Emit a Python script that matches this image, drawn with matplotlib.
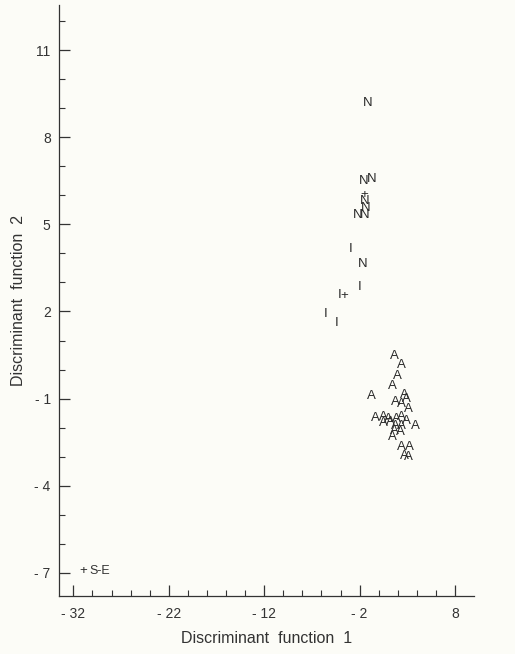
import numpy as np
import matplotlib.pyplot as plt

# discriminant scores per group (function 1, function 2)
n_x = [-1.11, -1.53, -0.69, -1.42, -1.32, -1.42, -2.16, -1.67]
n_y = [9.17, 6.48, 6.55, 5.79, 5.55, 5.34, 5.31, 3.64]

i_x = [-2.89, -2.02, -4.11, -5.51, -4.46]
i_y = [4.16, 2.84, 2.58, 1.92, 1.61]

a_x = [1.64, 2.35, 2.00, 1.48, -0.80, 2.69, 2.87, 1.72, 2.42, 3.11,
       -0.38, 0.49, 1.02, 0.49, 1.19, 1.90, 2.42, 2.94, 3.81, 1.72,
       2.42, 1.64, 2.24, 1.44, 2.35, 3.18, 2.69, 3.11]
a_y = [0.48, 0.14, -0.21, -0.55, -0.92, -0.87, -1.03, -1.13, -1.18, -1.36,
       -1.67, -1.64, -1.70, -1.84, -1.82, -1.70, -1.64, -1.76, -1.95, -1.95,
       -1.93, -2.10, -2.16, -2.33, -2.68, -2.68, -2.97, -3.02]

# group centroids
c_x = [-1.53, -3.62, -31.0]
c_y = [6.03, 2.52, -6.93]

xticks = [-32, -22, -12, -2, 8]
yticks = [-7, -4, -1, 2, 5, 8, 11]

ink = '#333333'
bg = '#fcfcf7'
plt.rcParams['font.family'] = ['Liberation Sans', 'DejaVu Sans']
plt.rcParams['axes.unicode_minus'] = False

fig = plt.figure(figsize=(5.15, 6.54), dpi=100, facecolor=bg)
ax = fig.add_axes([0.1146, 0.0887, 0.806, 0.9033], facecolor=bg)

def letters(xs, ys, ch):
    for x, y in zip(xs, ys):
        ax.text(x, y, ch, ha='center', va='center', fontsize=9.5, color='#2a2a2a')

letters(n_x, n_y, 'N')
letters(i_x, i_y, 'I')
letters(a_x, a_y, 'A')
letters(c_x, c_y, '+')
ax.annotate('S-E', (c_x[2], c_y[2]), xytext=(5, 0), textcoords='offset points',
            ha='left', va='center', fontsize=9, color=ink)

ax.set_xlim(-33.5, 10)
ax.set_ylim(-7.8, 12.55)
ax.set_xticks(xticks)
ax.set_yticks(yticks)
ax.set_xticklabels([str(t).replace('-', '- ') for t in xticks])
ax.set_yticklabels([str(t).replace('-', '- ') for t in yticks])
ax.set_xticks(np.arange(-32, 10, 2), minor=True)
ax.set_yticks(np.arange(-7, 13, 1), minor=True)

for s in ['top', 'right']:
    ax.spines[s].set_visible(False)
for s in ['left', 'bottom']:
    ax.spines[s].set_color(ink)
    ax.spines[s].set_linewidth(0.9)

ax.tick_params(which='major', direction='in', length=8, width=0.9, color=ink,
               labelsize=10, labelcolor=ink)
ax.tick_params(axis='y', which='major', pad=6)
ax.tick_params(axis='x', which='major', pad=8)
ax.tick_params(which='minor', direction='in', length=4, width=0.8, color=ink)

ax.set_xlabel('Discriminant  function  1', fontsize=11.5, color=ink, labelpad=7)
ax.set_ylabel('Discriminant  function  2', fontsize=11.5, color=ink, labelpad=6)

fig.savefig('out.png', dpi=100, facecolor=bg)
